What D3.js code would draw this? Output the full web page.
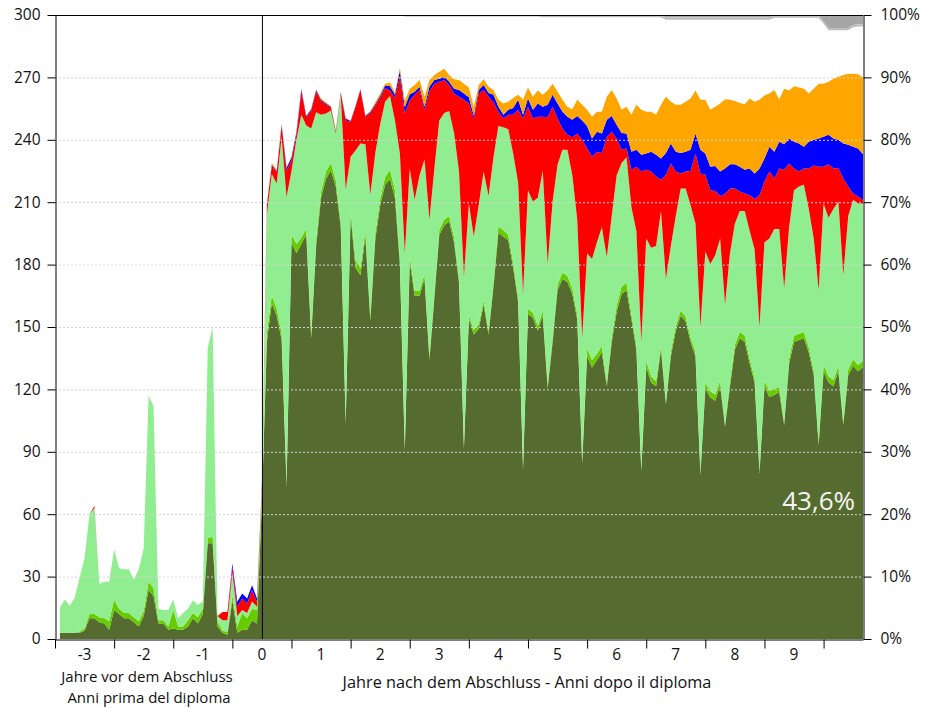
<!DOCTYPE html>
<html>
<head>
<meta charset="utf-8">
<script src="https://cdn.jsdelivr.net/npm/d3@7"></script>
<style>
  body { margin: 0; background: #fff; }
  svg text { font-family: 'Open Sans', sans-serif; fill: #111; }
</style>
</head>
<body>
<svg id="chart" width="925" height="709"></svg>
<script>
// months before the diploma (counts, left axis) and after it (percent, right axis)
var monthsBefore = d3.range(-41, 0)
var monthsAfter = d3.range(0, 123)

var oliveBefore = [3, 3, 3, 3, 3, 4, 10, 10, 8, 7.5, 4.5, 14, 12, 10, 10, 8, 6, 11, 23.5, 20.5,
    7.5, 7.5, 4.5, 5, 4.5, 4.5, 6, 10, 7.5, 12, 46, 46, 6, 3, 2, 18.5, 3, 4.5, 4.5, 9, 7.5]
var greenBefore = [0, 0, 0, 0, 0.5, 1, 2, 2, 2.5, 2.5, 4, 5, 2.5, 2.5, 2.5, 2.5, 2.5, 2.5, 4, 4,
    1.5, 1.5, 1.5, 9, 1.5, 1.5, 3, 2.5, 3, 2.5, 2.5, 3, 2.5, 1, 1.5, 2.5, 3, 8, 5.5, 5.5, 6.5]
var lightBefore = [12, 16, 13, 17, 26, 34, 48, 51, 16, 17.5, 19, 24, 19.5, 21, 21, 18, 25, 30, 89.5, 87.5,
    5.5, 5, 8, 5, 4, 6.5, 5.5, 6, 6, 3.5, 91.5, 101, 2.5, 5, 5.5, 11, 5, 1.5, 2.5, 3.5, 1.5]
var redBefore = [0, 0, 0, 0, 0, 0, 0, 1, 0, 0, 0, 0, 0, 0, 0, 0, 0, 0, 0, 0,
    0, 0, 0, 0, 0, 0, 0, 0, 0, 0, 0, 0, 0, 4, 4, 2.7, 4.5, 5.5, 4.6, 5.5, 2.4]
var blueBefore = [0, 0, 0, 0, 0, 0, 0, 0, 0, 0, 0, 0, 0, 0, 0, 0, 0, 0, 0, 0,
    0, 0, 0, 0, 0, 0, 0, 0, 0, 0, 0, 0, 0, 0, 0, 1.6, 2.4, 2.4, 2.4, 2.4, 1.6]
var orangeBefore = [0, 0, 0, 0, 0, 0, 0, 0, 0, 0, 0, 0, 0, 0, 0, 0, 0, 0, 0, 0,
    0, 0, 0, 0, 0, 0, 0, 0, 0, 0, 0, 0, 0, 0, 0, 0, 0, 0, 0, 0, 0]

var oliveAfter = [22, 47.6, 53.8, 51.8, 48.0, 24.5, 63.6, 61.8, 63.3, 64.8,
    48.2, 63.0, 70.7, 73.7, 75.1, 72.5, 66.0, 34.5, 67.8, 59.5,
    58.3, 64.5, 51.0, 64.0, 69.5, 72.8, 73.7, 70.7, 60.0, 30.2,
    60.5, 55.0, 55.0, 57.7, 44.7, 54.7, 64.8, 66.3, 66.9, 63.6,
    57.1, 30.5, 51.2, 48.8, 49.7, 53.6, 48.8, 56.5, 65.1, 64.5,
    63.9, 59.5, 54.1, 27.2, 52.1, 51.5, 49.4, 51.8, 40.2, 47.6,
    55.9, 57.7, 57.2, 55.3, 51.2, 28.1, 45.3, 43.5, 44.7, 45.9,
    40.5, 47.6, 52.4, 55.3, 55.9, 51.2, 46.4, 26.9, 43.5, 41.1,
    40.5, 46.4, 37.6, 45.3, 49.4, 51.8, 50.9, 47.6, 45.3, 26.3,
    40.2, 38.7, 38.2, 40.6, 34.0, 40.5, 46.4, 48.2, 47.6, 44.1,
    41.1, 26.6, 40.5, 38.8, 39.1, 39.6, 34.3, 44.1, 47.6, 47.9,
    48.2, 45.9, 42.3, 31.1, 42.9, 41.1, 40.5, 42.9, 34.3, 42.3,
    43.8, 42.9, 43.6]
var greenAfter = [0.5, 1.5, 1.2, 1.2, 1.0, 0.5, 1.2, 1.5, 1.0, 1.0,
    0.8, 1.0, 1.0, 1.2, 1.2, 1.0, 0.8, 0.5, 1.0, 1.2,
    1.2, 1.0, 0.8, 1.0, 1.0, 1.2, 1.5, 1.2, 1.0, 0.5,
    1.0, 0.8, 0.8, 0.8, 0.6, 0.8, 0.8, 0.9, 0.9, 0.8,
    0.7, 0.5, 0.7, 0.8, 0.7, 0.7, 0.6, 0.8, 1.0, 1.0,
    0.9, 0.8, 0.7, 0.5, 0.8, 0.8, 0.8, 0.8, 0.6, 0.7,
    0.9, 1.0, 1.0, 0.9, 0.8, 0.5, 1.2, 1.2, 1.0, 1.0,
    0.6, 0.8, 1.0, 1.2, 1.2, 0.8, 0.7, 0.5, 1.0, 1.0,
    0.8, 0.8, 0.6, 0.8, 0.8, 0.8, 0.8, 0.7, 0.7, 0.5,
    0.9, 1.0, 1.0, 0.8, 0.5, 0.8, 0.8, 1.0, 1.0, 0.8,
    0.7, 0.5, 0.9, 1.0, 1.0, 0.8, 0.5, 0.8, 1.0, 1.0,
    1.0, 0.8, 0.7, 0.5, 1.0, 1.0, 1.0, 0.9, 0.5, 0.9,
    1.0, 1.0, 1.0]
var lightAfter = [1.5, 18.9, 19.5, 20.0, 31.5, 45.8, 10.2, 16.7, 19.7, 16.5,
    32.8, 20.4, 12.3, 9.3, 8.4, 7.5, 20.4, 37.0, 8.5, 17.6,
    19.9, 13.8, 19.4, 12.8, 12.0, 12.1, 11.8, 11.2, 16.8, 31.1,
    13.9, 14.6, 18.5, 18.4, 21.9, 19.9, 17.5, 17.1, 16.8, 16.7,
    17.1, 27.0, 17.9, 14.9, 19.1, 20.6, 21.6, 19.9, 16.1, 16.5,
    16.9, 17.5, 18.3, 27.6, 19.0, 17.8, 20.5, 22.5, 19.3, 21.8,
    19.2, 19.7, 20.2, 18.1, 15.2, 19.6, 15.3, 16.2, 17.9, 19.1,
    20.1, 19.4, 20.9, 19.8, 20.1, 17.2, 18.3, 20.2, 19.7, 20.6,
    21.7, 21.4, 19.5, 16.9, 17.6, 19.6, 20.5, 21.2, 20.6, 23.2,
    21.0, 20.4, 22.3, 22.8, 19.1, 20.5, 19.4, 19.4, 20.0, 20.5,
    20.6, 22.9, 22.2, 24.4, 25.6, 25.3, 21.4, 21.1, 23.3, 23.6,
    23.6, 22.2, 21.2, 24.3, 25.9, 25.4, 27.4, 26.3, 23.5, 24.6,
    25.6, 25.9, 25.2]
var redAfter = [1.0, 1.5, 1.3, 1.8, 1.7, 4.2, 1.8, 0.8, 3.8, 1.3,
    2.9, 3.4, 2.2, 1.4, 0.5, 0.3, 0.3, 11.1, 5.6, 7.0,
    8.6, 4.4, 13.1, 7.7, 4.2, 2.2, 0.9, 3.6, 12.4, 22.4,
    10.9, 16.8, 13.7, 7.9, 20.5, 13.6, 6.2, 5.3, 4.2, 6.3,
    12.0, 28.4, 16.0, 18.9, 17.9, 13.1, 15.9, 8.8, 2.3, 1.4,
    2.3, 6.2, 11.7, 28.1, 13.4, 13.3, 13.0, 8.6, 23.5, 15.2,
    7.4, 3.4, 2.4, 6.1, 13.8, 31.8, 16.8, 16.4, 14.5, 11.9,
    19.3, 13.5, 5.9, 2.1, 1.4, 6.0, 10.3, 27.3, 11.0, 12.2,
    11.1, 5.0, 16.7, 13.2, 7.1, 2.4, 2.7, 5.5, 11.2, 24.6,
    12.3, 11.8, 10.3, 6.8, 17.7, 10.4, 5.6, 3.1, 2.8, 5.7,
    8.1, 21.1, 9.7, 10.7, 8.1, 9.7, 19.0, 10.2, 3.5, 2.4,
    2.6, 6.5, 11.7, 19.8, 5.9, 8.6, 6.5, 5.4, 15.5, 4.7,
    1.0, 1.1, 0.5]
var blueAfter = [0, 0.1, 0.2, 0.2, 0.2, 0.5, 0.4, 0.4, 0.3, 0.2,
    0.2, 0.2, 0.2, 0.2, 0.1, 0.1, 0.1, 0.3, 0.1, 0.1,
    0.1, 0.1, 0.2, 0.2, 0.3, 0.4, 0.7, 0.5, 0.9, 1.0,
    1.0, 0.5, 0.5, 0.5, 0.8, 0.6, 0.5, 0.5, 0.5, 0.8,
    1.1, 1.0, 1.0, 0.5, 0.6, 0.8, 0.6, 1.2, 0.8, 0.6,
    0.8, 1.1, 1.6, 0.6, 1.3, 1.4, 2.1, 1.6, 2.0, 1.9,
    2.4, 2.7, 2.9, 2.8, 2.8, 3.1, 3.6, 2.9, 3.2, 3.1,
    2.7, 2.5, 2.2, 2.7, 2.4, 2.9, 2.7, 2.7, 2.6, 3.2,
    3.5, 3.4, 3.5, 3.2, 3.2, 3.3, 3.2, 3.4, 3.2, 3.8,
    3.4, 3.8, 4.0, 3.9, 4.1, 3.9, 3.9, 4.0, 3.8, 4.3,
    4.1, 4.3, 3.7, 4.0, 4.3, 4.3, 4.1, 4.0, 4.3, 4.5,
    3.5, 4.3, 4.1, 4.5, 4.8, 4.7, 4.8, 4.5, 5.6, 6.7,
    7.5, 7.7, 7.4]
var orangeAfter = [0, 0.1, 0.3, 0.2, 0.1, 0.1, 0.1, 0.1, 0.1, 0.1,
    0.1, 0.1, 0.2, 0.2, 0.1, 0.1, 0.1, 0.1, 0.1, 0.1,
    0.1, 0.1, 0.1, 0.3, 0.4, 0.3, 0.6, 0.4, 0.4, 1.0,
    0.9, 1.1, 1.1, 1.6, 1.1, 0.8, 1.1, 1.3, 1.1, 1.5,
    1.6, 1.6, 1.6, 1.4, 0.8, 0.9, 1.0, 0.8, 1.1, 1.8,
    1.3, 1.6, 0.8, 2.4, 1.8, 2.1, 2.1, 1.9, 2.3, 1.8,
    1.9, 1.9, 1.6, 1.7, 2.6, 2.5, 2.6, 3.5, 3.2, 3.5,
    3.7, 4.2, 4.2, 3.7, 4.3, 5.9, 7.2, 7.2, 6.7, 6.4,
    6.4, 8.6, 9.0, 6.7, 7.5, 7.7, 8.0, 8.2, 6.9, 8.0,
    8.6, 9.1, 9.5, 10.9, 11.1, 10.3, 10.1, 10.2, 10.5, 11.2,
    11.5, 11.0, 10.1, 8.5, 9.9, 6.8, 8.9, 7.7, 8.9, 9.0,
    9.3, 7.7, 8.2, 8.8, 8.5, 8.5, 9.6, 10.1, 11.0, 11.4,
    11.7, 11.9, 12.3]
// grey layers hanging down from 100%
var greyDarkAfter = [0, 0, 0, 0, 0, 0, 0, 0, 0, 0, 0, 0, 0, 0, 0, 0, 0, 0, 0, 0,
    0, 0, 0, 0, 0, 0, 0, 0, 0, 0, 0, 0, 0, 0, 0, 0, 0, 0, 0, 0,
    0, 0, 0, 0, 0, 0, 0, 0, 0, 0, 0, 0, 0, 0, 0, 0, 0, 0, 0, 0,
    0, 0, 0, 0, 0, 0, 0, 0, 0, 0, 0, 0, 0, 0, 0, 0, 0, 0, 0, 0,
    0, 0, 0.4, 0.4, 0.4, 0.4, 0.4, 0.4, 0.4, 0.4, 0.4, 0.4, 0.4, 0.4, 0.4, 0.4, 0.4, 0.4, 0.4, 0.4,
    0.4, 0.4, 0.4, 0.4, 0.1, 0.1, 0.1, 0.1, 0.1, 0.1, 0.1, 0.1, 0.1, 0.1, 1.0, 2.1, 2.1, 2.1, 2.1, 2.1,
    1.6, 1.5, 1.5]
var greyLightAfter = [0, 0, 0, 0, 0, 0, 0, 0, 0, 0, 0, 0, 0, 0, 0, 0, 0, 0, 0, 0,
    0, 0, 0, 0, 0, 0, 0, 0, 0, 0.25, 0.25, 0.25, 0.25, 0.25, 0.25, 0.25, 0.25, 0.25, 0.25, 0.25,
    0.25, 0.25, 0.25, 0.25, 0.25, 0.25, 0.25, 0.25, 0.25, 0.25, 0.25, 0.25, 0.25, 0.25, 0.25, 0.25, 0.25, 0.35, 0.35, 0.35,
    0.35, 0.35, 0.35, 0.35, 0.35, 0.35, 0.35, 0.35, 0.35, 0.35, 0.35, 0.35, 0.35, 0.35, 0.35, 0.35, 0.35, 0.35, 0.35, 0.35,
    0.35, 0.35, 0.35, 0.35, 0.35, 0.35, 0.35, 0.35, 0.35, 0.35, 0.35, 0.35, 0.35, 0.35, 0.35, 0.35, 0.35, 0.35, 0.35, 0.35,
    0.35, 0.35, 0.35, 0.35, 0.35, 0.35, 0.35, 0.35, 0.35, 0.35, 0.35, 0.35, 0.35, 0.35, 0.35, 0.35, 0.35, 0.35, 0.35, 0.35,
    0.35, 0.35, 0.35]

var countTicks = [0, 30, 60, 90, 120, 150, 180, 210, 240, 270, 300]
var pctTicks = [0, 10, 20, 30, 40, 50, 60, 70, 80, 90, 100]
var yearLabels = [-3, -2, -1, 0, 1, 2, 3, 4, 5, 6, 7, 8, 9]
var tickMonths = [-42, -30, -18, -6, 6, 18, 30, 42, 54, 66, 78, 90, 102, 114]
var endLabel = '43,6%'

var keys = ['olive', 'green', 'light', 'red', 'blue', 'orange']
var colors = {
    olive: '#556b2f', green: '#66cc00', light: '#90ee90',
    red: '#ff0000', blue: '#0000ff', orange: '#ffa500'
}
var before = {olive: oliveBefore, green: greenBefore, light: lightBefore,
    red: redBefore, blue: blueBefore, orange: orangeBefore}
var after = {olive: oliveAfter, green: greenAfter, light: lightAfter,
    red: redAfter, blue: blueAfter, orange: orangeAfter}

var plotL = 55, plotR = 863, plotT = 15, plotB = 639

var x = d3.scaleLinear().domain([-42, 122]).range([plotL, plotR])
var yCount = d3.scaleLinear().domain([0, 300]).range([plotB, plotT])
var yPct = d3.scaleLinear().domain([0, 100]).range([plotB, plotT])

// before 0 the values are counts, after 0 they are shares
function yOf(month, v) {
    return month < 0 ? yCount(v) : yPct(v)
}

var rows = []
monthsBefore.forEach(function(m, i) {
    var r = {month: m}
    keys.forEach(function(k) { r[k] = before[k][i] })
    rows.push(r)
})
monthsAfter.forEach(function(m, i) {
    var r = {month: m}
    keys.forEach(function(k) { r[k] = after[k][i] })
    rows.push(r)
})

var svg = d3.select('#chart')

var series = d3.stack().keys(keys)(rows)
var area = d3.area()
    .x(function(d) { return x(d.data.month) })
    .y0(function(d) { return yOf(d.data.month, d[0]) })
    .y1(function(d) { return yOf(d.data.month, d[1]) })

svg.append('g').selectAll('path')
    .data(series)
    .enter()
    .append('path')
    .attr('d', area)
    .style('fill', function(d) { return colors[d.key] })

// grey bands from the top
var greyRows = monthsAfter.map(function(m, i) {
    return {month: m, dark: greyDarkAfter[i], pale: greyLightAfter[i]}
})
var greySeries = d3.stack().keys(['dark', 'pale'])(greyRows)
var greyArea = d3.area()
    .x(function(d) { return x(d.data.month) })
    .y0(function(d) { return yPct(100 - d[0]) })
    .y1(function(d) { return yPct(100 - d[1]) })
svg.append('g').selectAll('path')
    .data(greySeries)
    .enter()
    .append('path')
    .attr('d', greyArea)
    .style('fill', function(d) { return d.key == 'dark' ? '#a6a6a6' : '#bdbdbd' })

// dotted grid on top of the areas
svg.append('g').selectAll('line')
    .data(countTicks.slice(1, -1))
    .enter()
    .append('line')
    .attr('x1', plotL)
    .attr('x2', plotR)
    .attr('y1', function(d) { return yCount(d) + 0.5 })
    .attr('y2', function(d) { return yCount(d) + 0.5 })
    .style('stroke', '#d4d4d4')
    .style('stroke-width', 1)
    .style('stroke-dasharray', '2,2')

// frame
svg.append('line')
    .attr('x1', plotL).attr('x2', plotR)
    .attr('y1', plotT + 0.5).attr('y2', plotT + 0.5)
    .style('stroke', '#000')
svg.append('line')
    .attr('x1', x(0) + 0.5).attr('x2', x(0) + 0.5)
    .attr('y1', plotT).attr('y2', plotB)
    .style('stroke', '#000')

svg.append('g')
    .attr('transform', 'translate(' + (plotL + 0.5) + ',0)')
    .call(d3.axisLeft(yCount).tickValues(countTicks).tickSize(8).tickSizeOuter(0).tickPadding(7))
svg.append('g')
    .attr('transform', 'translate(' + (plotR + 0.5) + ',0)')
    .call(d3.axisRight(yPct).tickValues(pctTicks).tickSize(8).tickSizeOuter(0).tickPadding(9)
        .tickFormat(function(d) { return d + '%' }))
svg.append('g')
    .attr('transform', 'translate(0,' + (plotB + 0.5) + ')')
    .call(d3.axisBottom(x).tickValues(tickMonths).tickSize(9).tickSizeOuter(0).tickFormat(''))

svg.selectAll('.domain, .tick line').style('stroke', '#000')
svg.selectAll('.tick text').style('font-size', '15.5px').style('font-family', 'Open Sans').style('fill', '#111')

svg.append('g').selectAll('text')
    .data(yearLabels)
    .enter()
    .append('text')
    .attr('x', function(d) { return x(d * 12) })
    .attr('y', 660)
    .attr('text-anchor', 'middle')
    .style('font-size', '15.5px')
    .text(function(d) { return d })

svg.append('text')
    .attr('x', 147).attr('y', 681.5)
    .attr('text-anchor', 'middle')
    .style('font-size', '15px')
    .text('Jahre vor dem Abschluss')
svg.append('text')
    .attr('x', 149).attr('y', 702.5)
    .attr('text-anchor', 'middle')
    .style('font-size', '15px')
    .text('Anni prima del diploma')
svg.append('text')
    .attr('x', 527).attr('y', 688)
    .attr('text-anchor', 'middle')
    .style('font-size', '16.3px')
    .text('Jahre nach dem Abschluss - Anni dopo il diploma')

svg.append('text')
    .attr('x', 855).attr('y', 510)
    .attr('text-anchor', 'end')
    .style('font-size', '26px')
    .style('fill', '#f4f4f4')
    .text(endLabel)
</script>
</body>
</html>
